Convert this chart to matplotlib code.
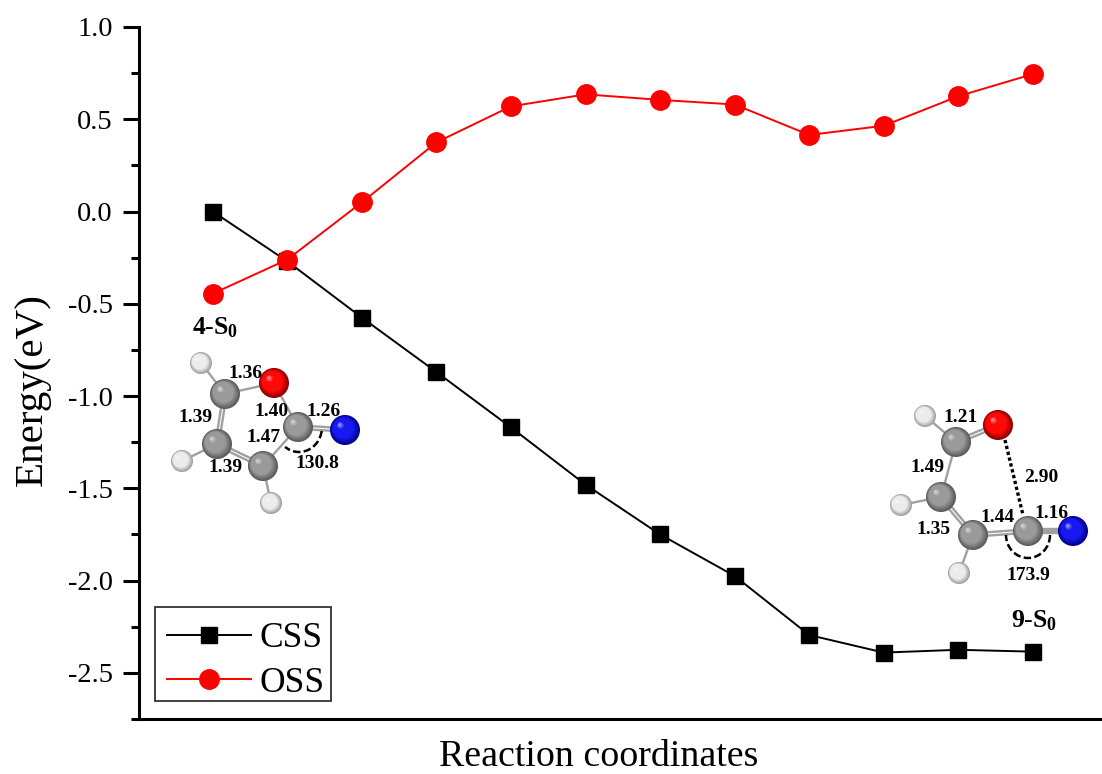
import numpy as np
import matplotlib
matplotlib.use("Agg")
import matplotlib.pyplot as plt
from matplotlib.patches import Arc, Circle, Rectangle
from matplotlib.ticker import FormatStrFormatter, MultipleLocator

plt.rcParams['font.family'] = ['Liberation Serif', 'DejaVu Serif']
plt.rcParams['axes.unicode_minus'] = False
plt.rcParams['mathtext.fontset'] = 'custom'
plt.rcParams['mathtext.rm'] = 'Liberation Serif'
plt.rcParams['mathtext.bf'] = 'Liberation Serif:bold'

W, H = 1102, 774

# energies
coord = np.arange(1, 13)
css = [0.0, -0.27, -0.575, -0.87, -1.17, -1.48, -1.75, -1.975, -2.295, -2.39, -2.375, -2.385]
oss = [-0.445, -0.26, 0.05, 0.375, 0.57, 0.635, 0.605, 0.58, 0.415, 0.465, 0.625, 0.745]

# molecule sketches, in picture pixels (x, y, element)
mol_a = [(201, 363, 'H'), (225, 394, 'C'), (274, 383, 'O'), (298, 427, 'C'), (345, 430, 'N'),
         (263, 466, 'C'), (217, 444, 'C'), (182, 461, 'H'), (271, 503, 'H')]
bonds_a = [(0, 1, 1), (1, 2, 1), (2, 3, 1), (3, 4, 2), (3, 5, 1), (5, 6, 2), (6, 1, 2), (6, 7, 1), (5, 8, 1)]
labels_a = [(245, 373, '1.36'), (195, 417, '1.39'), (271, 411, '1.40'), (324, 412, '1.26'),
            (264, 438, '1.47'), (226, 468, '1.39'), (317, 464, '130.8')]

mol_b = [(925, 416, 'H'), (956, 442, 'C'), (998, 425, 'O'), (941, 497, 'C'), (901, 505, 'H'),
         (973, 535, 'C'), (959, 573, 'H'), (1028, 531, 'C'), (1073, 531, 'N')]
bonds_b = [(0, 1, 1), (1, 2, 2), (1, 3, 1), (3, 4, 1), (3, 5, 2), (5, 6, 1), (5, 7, 2), (7, 8, 3)]
labels_b = [(961, 417, '1.21'), (927, 467, '1.49'), (1041, 477, '2.90'), (933, 530, '1.35'),
            (998, 517, '1.44'), (1052, 513, '1.16'), (1028, 576, '173.9')]

colors = {'C': ('#9a9a9a', '#5a5a5a'), 'O': ('#ff0808', '#8a0000'),
          'N': ('#1818f0', '#000088'), 'H': ('#ececec', '#a0a0a0')}
sizes = {'C': 15, 'O': 15, 'N': 15, 'H': 11}


def ball(ax, x, y, kind):
    r = sizes[kind]
    c0 = np.array(matplotlib.colors.to_rgb(colors[kind][1]))
    c1 = np.array(matplotlib.colors.to_rgb(colors[kind][0]))
    for t in np.linspace(0, 1, 16):
        col = c0 + (c1 - c0) * min(t * 3, 1)
        if t > 0.8:
            col = col + (1 - col) * (t - 0.8) * 2.5
        rr = r * (1 - 0.9 * t)
        off = 0.35 * r * t
        ax.add_patch(Circle((x - off, y - off), rr, color=col, lw=0, zorder=5))


def molecule(ax, atoms, bonds):
    for i, j, order in bonds:
        x0, y0 = atoms[i][:2]
        x1, y1 = atoms[j][:2]
        d = np.array([y1 - y0, x0 - x1], float)
        d = d / np.hypot(*d)
        shift = np.linspace(-1.7, 1.7, order) if order > 1 else [0]
        for s in shift:
            ax.plot([x0 + d[0] * s, x1 + d[0] * s], [y0 + d[1] * s, y1 + d[1] * s],
                    color='#a0a0a0', lw=1.7, zorder=4, solid_capstyle='butt')
    for x, y, kind in atoms:
        ball(ax, x, y, kind)


fig = plt.figure(figsize=(W / 100, H / 100), dpi=100)
left, right, top, bottom = 139, 1100, 27, 719
ax = fig.add_axes([left / W, 1 - bottom / H, (right - left) / W, (bottom - top) / H])

ax.plot(coord, css, '-', color='black', lw=1.4, marker='s', ms=12, label='CSS', zorder=3)
ax.plot(coord, oss, '-', color='red', lw=1.4, marker='o', ms=14, label='OSS', zorder=3)

ax.set_xlim(0.01, 12.9)
ax.set_ylim(-2.75, 1.0)
ax.spines['top'].set_visible(False)
ax.spines['right'].set_visible(False)
ax.spines['left'].set_linewidth(2.2)
ax.spines['bottom'].set_linewidth(2.2)
ax.set_xticks([])
ax.yaxis.set_major_locator(MultipleLocator(0.5))
ax.yaxis.set_minor_locator(MultipleLocator(0.25))
ax.yaxis.set_major_formatter(FormatStrFormatter('%.1f'))
ax.tick_params(axis='y', which='major', length=11.5, width=2.2, labelsize=20.5, pad=7.5)
ax.tick_params(axis='y', which='minor', length=6, width=2.2)
ax.set_ylabel('Energy(eV)', fontsize=29.5, va='center')
ax.yaxis.set_label_coords((32 - left) / (right - left), (bottom - 390) / (bottom - top))
ax.set_xlabel('Reaction coordinates', fontsize=27.3, va='center')
ax.xaxis.set_label_coords((599 - left) / (right - left), -(757 - bottom) / (bottom - top))

leg = ax.legend(loc='upper left', bbox_to_anchor=(167 / W, 1 - 622 / H), bbox_transform=fig.transFigure,
                fontsize=25.5, frameon=False, borderaxespad=0, borderpad=0,
                handlelength=2.37, handletextpad=0.25, labelspacing=0.33)
leg.set_zorder(8)

# overlay in picture pixels for the molecule sketches
ov = fig.add_axes([0, 0, 1, 1], facecolor='none')
ov.set_xlim(0, W)
ov.set_ylim(H, 0)
ov.axis('off')

ov.add_patch(Rectangle((155, 607), 176, 94, fc='none', ec='#333333', lw=1.3, zorder=2))

molecule(ov, mol_a, bonds_a)
molecule(ov, mol_b, bonds_b)

# angle marks and the O...C contact
ov.add_patch(Arc((299, 427), 46, 50, theta1=10, theta2=125, color='black', lw=1.8, ls=(0, (3, 1.3)), zorder=6))
ov.add_patch(Arc((1028, 535), 44, 46, theta1=0, theta2=180, color='black', lw=1.8, ls=(0, (3, 1.3)), zorder=6))
ov.plot([1005, 1023], [440, 515], color='black', lw=2.4, ls=(0, (1, 0.8)), zorder=4)

for x, y, s in labels_a + labels_b:
    ov.text(x, y, s, fontsize=14, fontweight='bold', ha='center', va='center', zorder=7)

ov.text(215, 328, r'$\mathbf{4\text{-}S_0}$', fontsize=18.5, ha='center', va='center', zorder=7)
ov.text(1034, 621, r'$\mathbf{9\text{-}S_0}$', fontsize=18.5, ha='center', va='center', zorder=7)

fig.savefig('out.png', dpi=100)
